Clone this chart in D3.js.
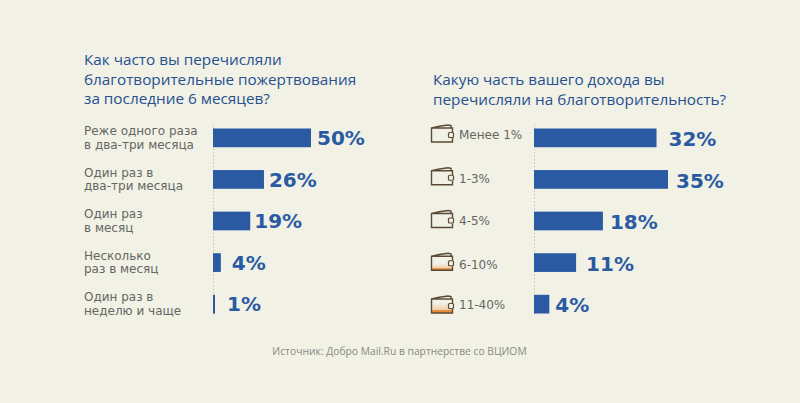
<!DOCTYPE html>
<html><head><meta charset="utf-8">
<script src="https://cdn.jsdelivr.net/npm/d3@7/dist/d3.min.js"></script>
<style>html,body{margin:0;padding:0;background:#f1f1e6;overflow:hidden}svg{display:block}</style>
</head><body><svg id="c" width="800" height="403"></svg>
<script>
const freqLabels = [["Реже одного раза","в два-три месяца"],["Один раз в","два-три месяца"],["Один раз","в месяц"],["Несколько","раз в месяц"],["Один раз в","неделю и чаще"]];
const freqValues = [50,26,19,4,1];
const shareLabels = ["Менее 1%","1-3%","4-5%","6-10%","11-40%"];
const shareValues = [32,35,18,11,4];
const walletFill = [0,0,0,0.45,0.7];
const title1 = ["Как часто вы перечисляли","благотворительные пожертвования","за последние 6 месяцев?"];
const title2 = ["Какую часть вашего дохода вы","перечисляли на благотворительность?"];
const source = "Источник: Добро Mail.Ru в партнерстве со ВЦИОМ";
const freqGap = [6,5,4,11,12];
const shareGap = [12,8,7,10,6];
const shareLabelShift = [10.5,12.5,13.5,15.5,14.5];

const svg = d3.select("#c");
const bg="#f1f1e6", blue="#2a5aa2", titleC="#26508f", grey="#666662", font="'DejaVu Sans',sans-serif";
const y = d3.scaleBand().domain(d3.range(5)).range([128.5,313.5]).paddingInner(0.55).paddingOuter(0).align(0);
const wy = d3.scaleLinear().domain([0,4]).range([125,296]);
const x1 = d3.scaleLinear().domain([0,50]).range([213,311]);
const x2 = d3.scaleLinear().domain([0,35]).range([534,668]);

function text(t,xp,yp,size,col,extra){
  const e=svg.append("text").attr("x",xp).attr("y",yp).attr("font-size",size).attr("fill",col).attr("font-family",extra&&extra.family||font).text(t);
  if(extra&&extra.weight)e.attr("font-weight",extra.weight);
  if(extra&&extra.anchor)e.attr("text-anchor",extra.anchor);
  return e;
}
const tf={family:"'Open Sans',sans-serif"};
title1.forEach((t,i)=>text(t,84,65+i*19.7,15.3,titleC,tf));
title2.forEach((t,i)=>text(t,433,85+i*19.7,15.3,titleC,tf));

function axis(x0){svg.append("line").attr("x1",x0).attr("x2",x0).attr("y1",124).attr("y2",316)
  .attr("stroke","#c4c4b8").attr("stroke-dasharray","1.5 2").attr("stroke-width",1);}
axis(x1(0)+0.5);axis(x2(0)+0.5);

const h=y.bandwidth();
svg.append("g").selectAll("rect").data(freqValues).join("rect")
 .attr("x",x1(0)).attr("y",(d,i)=>y(i)).attr("width",d=>Math.max(2,x1(d)-x1(0))).attr("height",h).attr("fill",blue);
svg.append("g").selectAll("rect").data(shareValues).join("rect")
 .attr("x",x2(0)).attr("y",(d,i)=>y(i)).attr("width",d=>x2(d)-x2(0)).attr("height",h).attr("fill",blue);

freqValues.forEach((v,i)=>{
  text(v+"%",Math.max(x1(v),x1(0)+2)+freqGap[i],y(i)+16.5,20,blue,{weight:"bold"});
  freqLabels[i].forEach((l,j)=>text(l,84,y(i)+6.5+j*13.6,12,grey));
});
const defs=svg.append("defs");
shareValues.forEach((v,i)=>{
  text(v+"%",x2(v)+shareGap[i],y(i)+17.5,20,blue,{weight:"bold"});
  text(shareLabels[i],459,y(i)+shareLabelShift[i],12,grey);
  const g=svg.append("g").attr("transform",`translate(431,${wy(i)})`);
  const w=21,hh=14,top=3;
  if(walletFill[i]>0){
    const lg=defs.append("linearGradient").attr("id",`g${i}`).attr("x1",0).attr("x2",0).attr("y1",1).attr("y2",0);
    lg.append("stop").attr("offset",0).attr("stop-color","#e8893a");
    lg.append("stop").attr("offset",walletFill[i]*0.25).attr("stop-color","#e8893a");
    lg.append("stop").attr("offset",walletFill[i]*0.35).attr("stop-color","#f3cfa8");
    lg.append("stop").attr("offset",walletFill[i]).attr("stop-color",bg);
    g.append("rect").attr("x",0.5).attr("y",top).attr("width",w).attr("height",hh).attr("fill",`url(#g${i})`);
  }
  g.append("path").attr("d",`M17 ${top-3}Q8 ${top-2} 0.5 ${top}V${top+hh}H21.5V${top+10}M21.5 ${top+4.5}V${top}H0.5M20 ${top}V${top-2.5}L17 ${top-3}`)
   .attr("fill","none").attr("stroke","#5b4a36").attr("stroke-width",1.4);
  g.append("rect").attr("x",17.5).attr("y",top+4.5).attr("width",5).attr("height",5).attr("rx",1).attr("fill",bg).attr("stroke","#5b4a36").attr("stroke-width",1.2);
});
text(source,399.5,355,10.3,"#8a8a84",{anchor:"middle",family:"'Open Sans',sans-serif"});
</script></body></html>
